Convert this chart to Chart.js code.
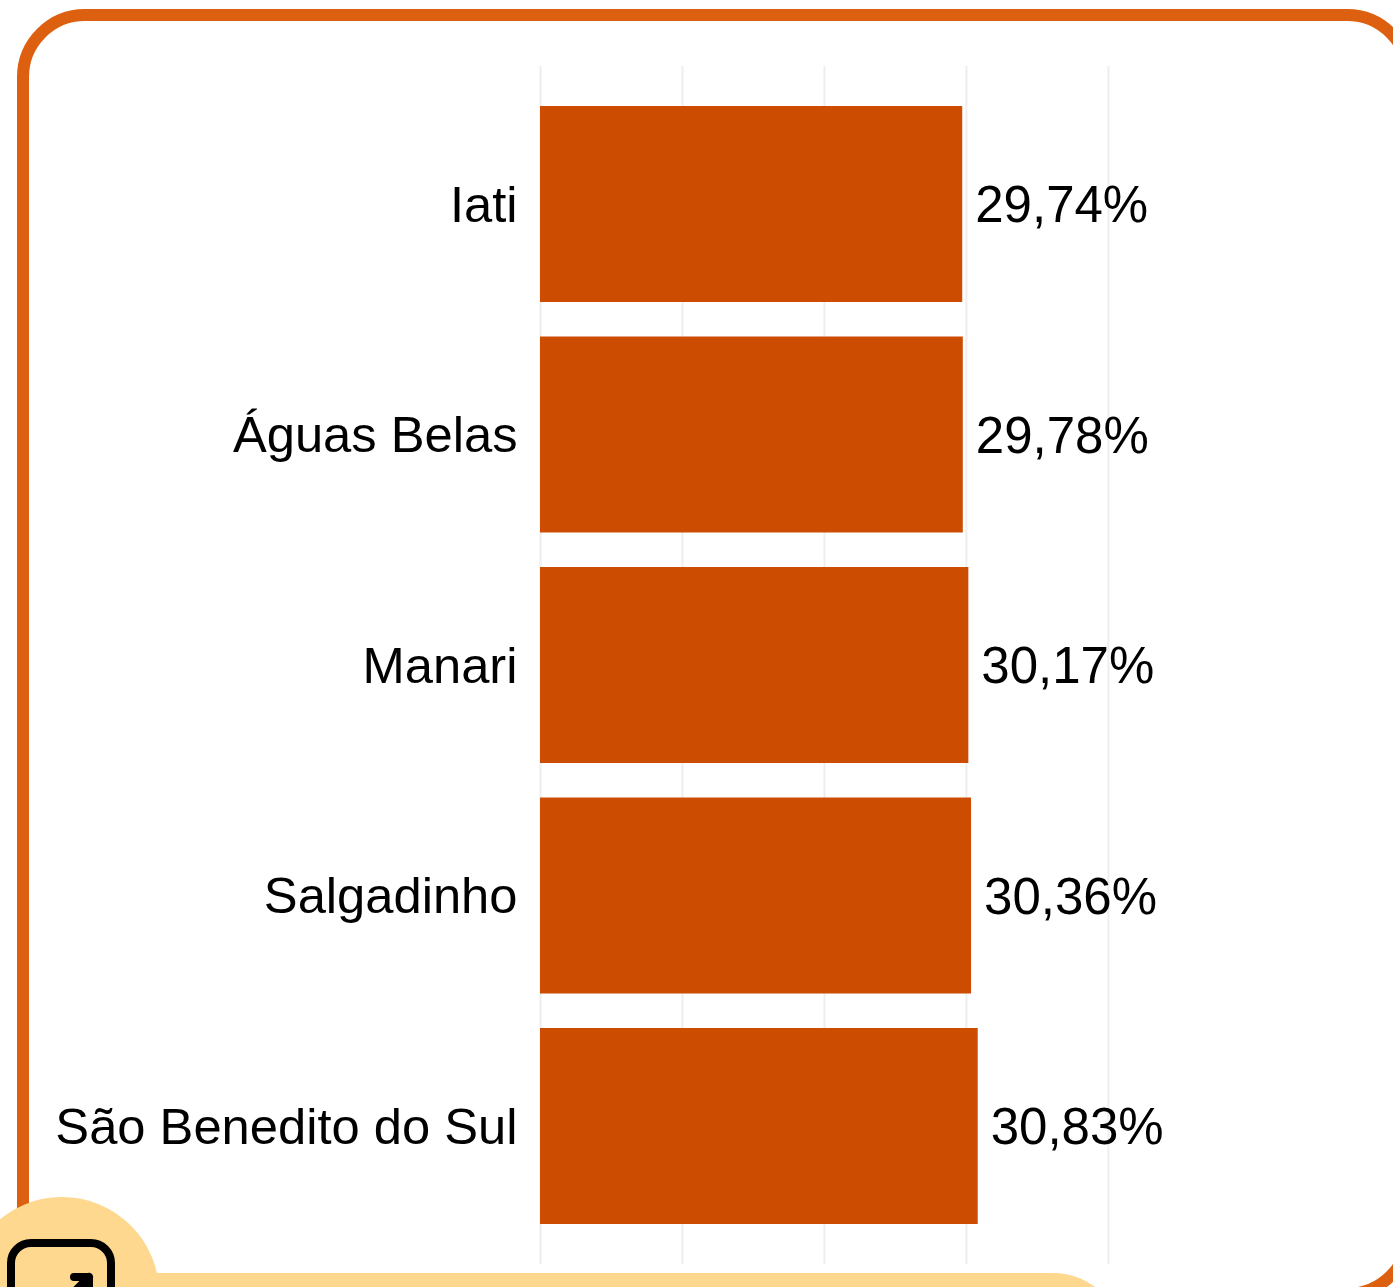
<!DOCTYPE html>
<html><head><meta charset="utf-8">
<script src="https://cdn.jsdelivr.net/npm/chart.js@4"></script>
<style>
html,body{margin:0;padding:0;width:1393px;height:1287px;overflow:hidden;background:#fff}
#card{position:absolute;left:17.3px;top:9.3px;width:1398px;height:1291px;box-sizing:border-box;border:12px solid #DC600F;border-radius:68px}
#c{position:absolute;left:0;top:0}
#deco{position:absolute;left:0;top:0}
</style></head><body>
<div id="card"></div>
<canvas id="c" width="1393" height="1287"></canvas>
<svg id="deco" width="1393" height="1287" viewBox="0 0 1393 1287">
<circle cx="62" cy="1294.4" r="97.4" fill="#FFD88F"/>
<rect x="-100" y="1273" width="1223" height="200" rx="70" ry="70" fill="#FFD88F"/>
<rect x="11" y="1243" width="100" height="80" rx="20" fill="none" stroke="#000" stroke-width="8"/>
<path d="M74 1277 H89 V1296 M89 1277 L69 1297" fill="none" stroke="#000" stroke-width="8" stroke-linecap="round" stroke-linejoin="round"/>
</svg>
<script>
const categories = ["Iati", "Águas Belas", "Manari", "Salgadinho", "São Benedito do Sul"];
const values = [29.74, 29.78, 30.17, 30.36, 30.83];
const xTicks = [0, 10, 20, 30, 40];
const FONT = '"Liberation Sans"';
const BAND_TOP = 88.75, BAND_BOTTOM = 1241.25;
const fixBands = {
  id: 'fixBands',
  afterLayout(chart) {
    const y = chart.scales.y;
    y.top = BAND_TOP; y.bottom = BAND_BOTTOM; y.height = BAND_BOTTOM - BAND_TOP;
    y.configure();
  }
};
const extendedGrid = {
  id: 'extendedGrid',
  beforeDatasetsDraw(chart) {
    const x = chart.scales.x, g = chart.ctx;
    g.save(); g.strokeStyle = '#EEEEEE'; g.lineWidth = 2;
    xTicks.forEach(v => {
      const px = x.getPixelForValue(v);
      g.beginPath(); g.moveTo(px + 0.5, 66); g.lineTo(px + 0.5, 1264); g.stroke();
    });
    g.restore();
  }
};
const valueLabels = {
  id: 'valueLabels',
  afterDatasetsDraw(chart) {
    const g = chart.ctx, meta = chart.getDatasetMeta(0);
    g.save(); g.fillStyle = '#000'; g.font = '51px ' + FONT;
    g.fontKerning = 'normal'; g.textRendering = 'optimizeLegibility';
    g.textAlign = 'left'; g.textBaseline = 'middle';
    meta.data.forEach((el, i) => {
      g.fillText(values[i].toFixed(2).replace('.', ',') + '%', el.x + 13, el.y + 4);
    });
    g.restore();
  }
};
new Chart(document.getElementById('c'), {
  type: 'bar',
  data: { labels: categories, datasets: [{ data: values, backgroundColor: '#CC4C02', borderWidth: 0,
    categoryPercentage: 0.85, barPercentage: 1 }] },
  plugins: [fixBands, extendedGrid, valueLabels],
  options: {
    indexAxis: 'y', responsive: false, animation: false,
    layout: { padding: { top: 88.75, bottom: 38, left: 0, right: 285.1 } },
    plugins: { legend: { display: false }, tooltip: { enabled: false } },
    scales: {
      x: { min: 0, max: 40, afterBuildTicks(s){ s.ticks = xTicks.map(v => ({ value: v })); },
           afterFit(s){ s.height = 0; },
           ticks: { display: false }, grid: { display: false, drawTicks: false, tickLength: 0 }, border: { display: false } },
      y: { afterFit(s){ s.width = 540; },
           ticks: { color: '#000', font: { family: FONT, size: 50.7 }, padding: 22.5, autoSkip: false, labelOffset: 4 },
           grid: { display: false, drawTicks: false, tickLength: 0 }, border: { display: false } }
    }
  }
});
</script>
</body></html>
